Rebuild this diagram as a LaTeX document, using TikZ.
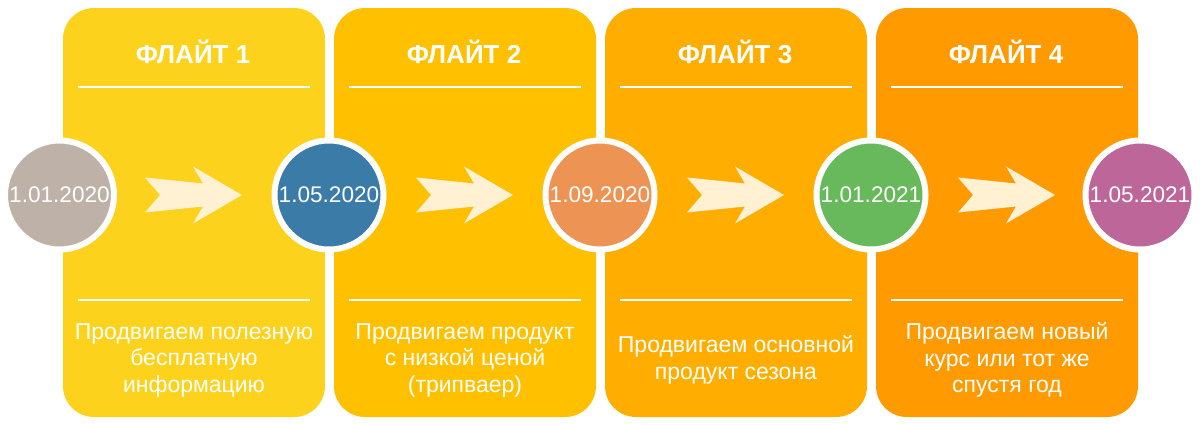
\documentclass[tikz,border=0pt]{standalone}
\usepackage{fontspec}
\setmainfont{Liberation Sans}
\definecolor{panelA}{HTML}{FCD21C}
\definecolor{panelB}{HTML}{FFC000}
\definecolor{panelC}{HTML}{FFAE00}
\definecolor{panelD}{HTML}{FF9A00}
\definecolor{dotA}{HTML}{BEB1A7}
\definecolor{dotB}{HTML}{3A7BA8}
\definecolor{dotC}{HTML}{ED9455}
\definecolor{dotD}{HTML}{68B85C}
\definecolor{dotE}{HTML}{BD6699}
\definecolor{arrowfill}{HTML}{FFF1D2}
\begin{document}
\begin{tikzpicture}[x=1pt,y=-1pt,
  panel/.style={rounded corners=31pt},
  sepline/.style={draw=white,line width=1.5pt},
  title/.style={text=white,font=\fontsize{26}{31}\selectfont\bfseries,anchor=base,inner sep=0pt},
  body/.style={text=white,font=\fontsize{23}{26.5}\selectfont,align=center,anchor=center,inner sep=0pt},
  datecircle/.style={circle,draw=white,line width=6pt,minimum size=109pt,inner sep=0pt,text=white,font=\fontsize{22.6}{26}\selectfont},
  chevron/.style={fill=arrowfill}
]
\useasboundingbox (0,0) rectangle (1200,424);
% panels
\foreach \i/\c in {0/panelA,1/panelB,2/panelC,3/panelD}{
  \pgfmathsetmacro{\xl}{63+271*\i}
  \fill[panel,\c] (\xl,8) rectangle ++(262,409);
  \draw[sepline] (\xl+15,87) -- ++(232,0);
  \draw[sepline] (\xl+15,300) -- ++(232,0);
  \coordinate (ac\i) at (\xl+131,195);
  \fill[chevron] ([shift={(-49,-17.5)}]ac\i) -- ([shift={(9,-11.5)}]ac\i) -- ([shift={(-1,-28.5)}]ac\i)
     -- ([shift={(48,0)}]ac\i) -- ([shift={(-1,28.5)}]ac\i) -- ([shift={(9,11.5)}]ac\i)
     -- ([shift={(-49,17.5)}]ac\i) -- ([shift={(-34,0)}]ac\i) -- cycle;
}
% titles
\node[title] (t1) at (193,63) {ФЛАЙТ 1};
\node[title] (t2) at (464,63) {ФЛАЙТ 2};
\node[title] (t3) at (735,63) {ФЛАЙТ 3};
\node[title] (t4) at (1006,63) {ФЛАЙТ 4};
% descriptions
\node[body] (b1) at (194,360) {Продвигаем полезную\\бесплатную\\информацию};
\node[body] (b2) at (465,360) {Продвигаем продукт\\с низкой ценой\\(трипваер)};
\node[body] (b3) at (736,360) {Продвигаем основной\\продукт сезона};
\node[body] (b4) at (1007,360) {Продвигаем новый\\курс или тот же\\спустя год};
% dates
\node[datecircle,fill=dotA] (d1) at (59.5,195) {1.01.2020};
\node[datecircle,fill=dotB] (d2) at (329,195) {1.05.2020};
\node[datecircle,fill=dotC] (d3) at (600,195) {1.09.2020};
\node[datecircle,fill=dotD] (d4) at (871,195) {1.01.2021};
\node[datecircle,fill=dotE] (d5) at (1140,195) {1.05.2021};
\end{tikzpicture}
\end{document}
